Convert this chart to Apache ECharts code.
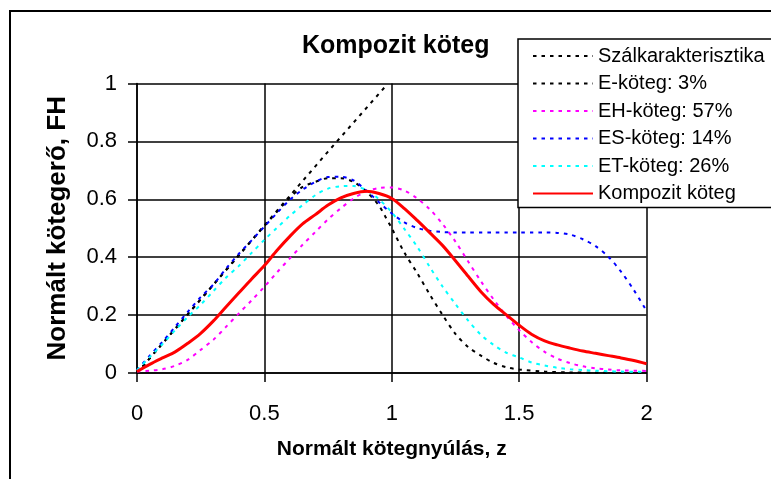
<!DOCTYPE html>
<html>
<head>
<meta charset="utf-8">
<script src="https://cdn.jsdelivr.net/npm/echarts@6/dist/echarts.min.js"></script>
<style>
html,body{margin:0;padding:0;background:#fff;}
#chart{width:771px;height:479px;}
</style>
</head>
<body>
<div id="chart"></div>
<script>
// ---- data ----
var titleText = 'Kompozit köteg';
var xAxisName = 'Normált kötegnyúlás, z';
var yAxisName = 'Normált kötegerő, FH';
var xTickLabels = ['0', '0.5', '1', '1.5', '2'];
var yTickLabels = ['0', '0.2', '0.4', '0.6', '0.8', '1'];
var seriesNames = ['Szálkarakterisztika', 'E-köteg: 3%', 'EH-köteg: 57%', 'ES-köteg: 14%', 'ET-köteg: 26%', 'Kompozit köteg'];

var zFiber = [0, 0.25, 0.5, 0.75, 0.975];
var vFiber = [0, 0.255, 0.51, 0.765, 0.99];

var zE = [0, 0.1, 0.2, 0.3, 0.4, 0.5, 0.6, 0.65, 0.7, 0.75, 0.8, 0.85, 0.9, 0.95, 0.975, 1.0, 1.05, 1.1, 1.15, 1.2, 1.25, 1.3, 1.35, 1.4, 1.45, 1.5, 1.6, 1.7, 1.8, 1.9, 2.0];
var vE = [0, 0.1015, 0.203, 0.3045, 0.406, 0.5075, 0.605, 0.643, 0.66, 0.673, 0.673, 0.66, 0.627, 0.578, 0.54, 0.5, 0.415, 0.345, 0.27, 0.2, 0.135, 0.09, 0.06, 0.035, 0.02, 0.012, 0.005, 0.002, 0.001, 0, 0];

var zBundle = [0, 0.05, 0.1, 0.15, 0.2, 0.25, 0.3, 0.35, 0.4, 0.45, 0.5, 0.55, 0.6, 0.65, 0.7, 0.75, 0.8, 0.85, 0.9, 0.95, 1.0, 1.05, 1.1, 1.15, 1.2, 1.25, 1.3, 1.35, 1.4, 1.45, 1.5, 1.55, 1.6, 1.65, 1.7, 1.75, 1.8, 1.85, 1.9, 1.95, 2.0];
var vEH = [0.005, 0.008, 0.013, 0.025, 0.046, 0.08, 0.115, 0.16, 0.206, 0.251, 0.298, 0.348, 0.396, 0.443, 0.487, 0.531, 0.569, 0.603, 0.627, 0.639, 0.641, 0.63, 0.603, 0.565, 0.514, 0.454, 0.385, 0.317, 0.254, 0.197, 0.148, 0.106, 0.073, 0.05, 0.034, 0.023, 0.016, 0.012, 0.009, 0.008, 0.007];
var vES = [0.01, 0.06, 0.108, 0.16, 0.212, 0.262, 0.306, 0.361, 0.412, 0.458, 0.506, 0.553, 0.598, 0.633, 0.66, 0.677, 0.678, 0.665, 0.63, 0.59, 0.551, 0.52, 0.501, 0.491, 0.487, 0.485, 0.485, 0.485, 0.485, 0.485, 0.485, 0.485, 0.485, 0.484, 0.478, 0.462, 0.438, 0.402, 0.35, 0.287, 0.215];
var vET = [0.01, 0.055, 0.1, 0.148, 0.194, 0.236, 0.283, 0.33, 0.37, 0.415, 0.46, 0.502, 0.543, 0.58, 0.614, 0.637, 0.645, 0.646, 0.632, 0.6, 0.555, 0.497, 0.436, 0.365, 0.298, 0.238, 0.181, 0.132, 0.097, 0.07, 0.054, 0.036, 0.026, 0.018, 0.013, 0.01, 0.008, 0.006, 0.005, 0.004, 0.004];
var vKomp = [0.005, 0.03, 0.052, 0.073, 0.103, 0.137, 0.18, 0.229, 0.277, 0.325, 0.371, 0.424, 0.472, 0.515, 0.547, 0.58, 0.605, 0.62, 0.628, 0.62, 0.603, 0.568, 0.527, 0.484, 0.44, 0.388, 0.334, 0.281, 0.237, 0.201, 0.165, 0.133, 0.111, 0.097, 0.086, 0.076, 0.068, 0.06, 0.052, 0.043, 0.032];

// ---- build ----
function pairs(xs, ys) { return xs.map(function (x, i) { return [x, ys[i]]; }); }
var FONT = "'Liberation Sans', Arial, sans-serif";
var dots = [3.5, 5];

function dotted(name, color, xs, ys, smooth) {
  return {
    name: name, type: 'line', data: pairs(xs, ys), symbol: 'none', smooth: smooth,
    lineStyle: { color: color, width: 2, type: dots }, itemStyle: { color: color }
  };
}

var chart = echarts.init(document.getElementById('chart'), null, { renderer: 'canvas' });
chart.setOption({
  animation: false,
  backgroundColor: '#fff',
  title: {
    text: titleText, left: 302, top: 34, padding: 0,
    textStyle: { fontFamily: FONT, fontSize: 25, fontWeight: 'bold', color: '#000' }
  },
  grid: { left: 137, right: 124.5, top: 83.5, bottom: 106, containLabel: false },
  legend: {
    orient: 'vertical', left: 518, top: 39,
    padding: [7, 45, 4, 14], itemGap: 7.5, itemWidth: 60, itemHeight: 14,
    backgroundColor: '#fff', borderColor: '#000', borderWidth: 1.5, borderRadius: 0,
    itemStyle: { opacity: 0 },
    textStyle: { fontFamily: FONT, fontSize: 20, color: '#000', lineHeight: 20 },
    data: seriesNames
  },
  xAxis: {
    type: 'value', min: 0, max: 2, interval: 0.5,
    name: xAxisName, nameLocation: 'middle', nameGap: 66,
    nameTextStyle: { fontFamily: FONT, fontSize: 21, fontWeight: 'bold', color: '#000' },
    axisLine: { show: true, lineStyle: { color: '#000', width: 1.5 } },
    axisTick: { show: true, inside: false, length: 9, lineStyle: { color: '#000', width: 1.5 } },
    axisLabel: { fontFamily: FONT, fontSize: 22, color: '#000', margin: 30,
      formatter: function (v) { return xTickLabels[Math.round(v / 0.5)]; } },
    splitLine: { show: true, lineStyle: { color: '#000', width: 1.5 } }
  },
  yAxis: {
    type: 'value', min: 0, max: 1, interval: 0.2,
    name: yAxisName, nameLocation: 'middle', nameGap: 66, nameRotate: 90,
    nameTextStyle: { fontFamily: FONT, fontSize: 26, fontWeight: 'bold', color: '#000' },
    axisLine: { show: true, lineStyle: { color: '#000', width: 1.5 } },
    axisTick: { show: true, inside: false, length: 9, lineStyle: { color: '#000', width: 1.5 } },
    axisLabel: { fontFamily: FONT, fontSize: 22, color: '#000', margin: 20,
      formatter: function (v) { return yTickLabels[Math.round(v / 0.2)]; } },
    splitLine: { show: true, lineStyle: { color: '#000', width: 1.5 } }
  },
  graphic: [{
    type: 'rect', z: -1, silent: true,
    shape: { x: 10, y: 11, width: 900, height: 600 },
    style: { fill: 'none', stroke: '#000', lineWidth: 2 }
  }],
  series: [
    dotted(seriesNames[0], '#000000', zFiber, vFiber, false),
    dotted(seriesNames[1], '#000000', zE, vE, 0.3),
    dotted(seriesNames[2], '#FF00FF', zBundle, vEH, 0.3),
    dotted(seriesNames[3], '#0000FF', zBundle, vES, 0.3),
    dotted(seriesNames[4], '#00FFFF', zBundle, vET, 0.3),
    {
      name: seriesNames[5], type: 'line', data: pairs(zBundle, vKomp), symbol: 'none', smooth: 0.3,
      lineStyle: { color: '#FF0000', width: 3 }, itemStyle: { color: '#FF0000' }
    }
  ]
});
</script>
</body>
</html>
